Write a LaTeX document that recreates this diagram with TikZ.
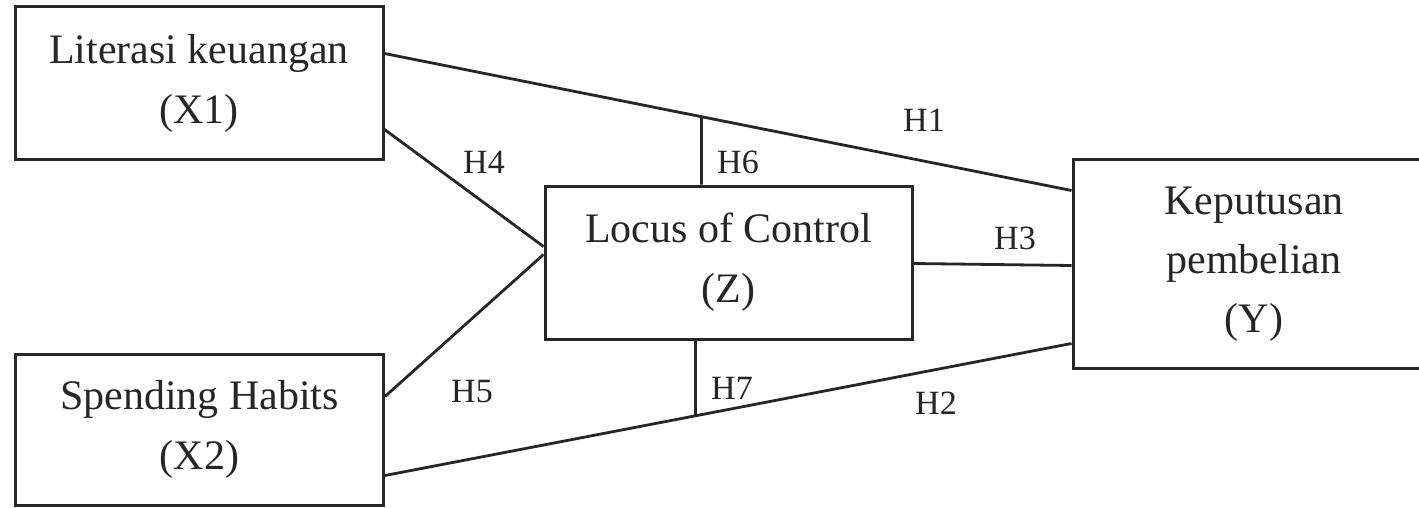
\documentclass[tikz,border=0pt]{standalone}
\usepackage{fontspec}
\setmainfont{Liberation Serif}
\begin{document}
\begin{tikzpicture}[x=0.5pt,y=-0.5pt,
  box/.style={draw=black!85, line width=1.5pt, inner sep=0pt, align=center,
    font=\fontsize{21}{30}\selectfont, text=black!85},
  conn/.style={draw=black!85, line width=1.4pt},
  hlabel/.style={font=\fontsize{17}{20}\selectfont, text=black!85, inner sep=0pt}]
\useasboundingbox (0,0) rectangle (1419,508);
\clip (0,0) rectangle (1419,508);
\node[box, minimum width=184pt, minimum height=76.5pt] (X1) at (199,83.5) {Literasi keuangan\\(X1)};
\node[box, minimum width=184pt, minimum height=75.5pt] (X2) at (199.5,429.5) {Spending Habits\\(X2)};
\node[box, minimum width=183.5pt, minimum height=76.5pt] (Z) at (728.5,262.5) {Locus of Control\\(Z)};
\node[box, minimum width=181pt, minimum height=104pt, font=\fontsize{21}{29.5}\selectfont] (Y) at (1254,264) {Keputusan\\pembelian\\(Y)};
% connection points
\coordinate (a1) at ([yshift=-24pt]X1.north east);
\coordinate (b1) at ([yshift=-16pt]Y.north west);
\coordinate (a4) at ([yshift=16pt]X1.south east);
\coordinate (b4) at ([yshift=-31pt]Z.north west);
\coordinate (a5) at ([yshift=-22pt]X2.north east);
\coordinate (b5) at ([yshift=-35pt]Z.north west);
\coordinate (a2) at ([yshift=-61.5pt]X2.north east);
\coordinate (b2) at ([yshift=-92.5pt]Y.north west);
\coordinate (a3) at ([yshift=-39.5pt]Z.north east);
\coordinate (b3) at ([yshift=-53.5pt]Y.north west);
\coordinate (z6) at ([xshift=79pt]Z.north west);
\coordinate (z6u) at ([xshift=79pt,yshift=100pt]Z.north west);
\coordinate (z7) at ([xshift=76pt]Z.south west);
\coordinate (z7d) at ([xshift=76pt,yshift=-100pt]Z.south west);
\coordinate (h6) at (intersection of a1--b1 and z6--z6u);
\coordinate (h7) at (intersection of a2--b2 and z7--z7d);
\draw[conn] (a1) -- (b1);
\draw[conn] (a4) -- (b4);
\draw[conn] (a5) -- (b5);
\draw[conn] (a2) -- (b2);
\draw[conn] (a3) -- (b3);
\draw[conn] (z6) -- (h6);
\draw[conn] (z7) -- (h7);
\node[hlabel] (H1) at (924,120) {H1};
\node[hlabel] (H2) at (936,403) {H2};
\node[hlabel] (H3) at (1015,238) {H3};
\node[hlabel] (H4) at (484,162) {H4};
\node[hlabel] (H5) at (472,392) {H5};
\node[hlabel] (H6) at (738,162) {H6};
\node[hlabel] (H7) at (732,388) {H7};
\end{tikzpicture}
\end{document}
